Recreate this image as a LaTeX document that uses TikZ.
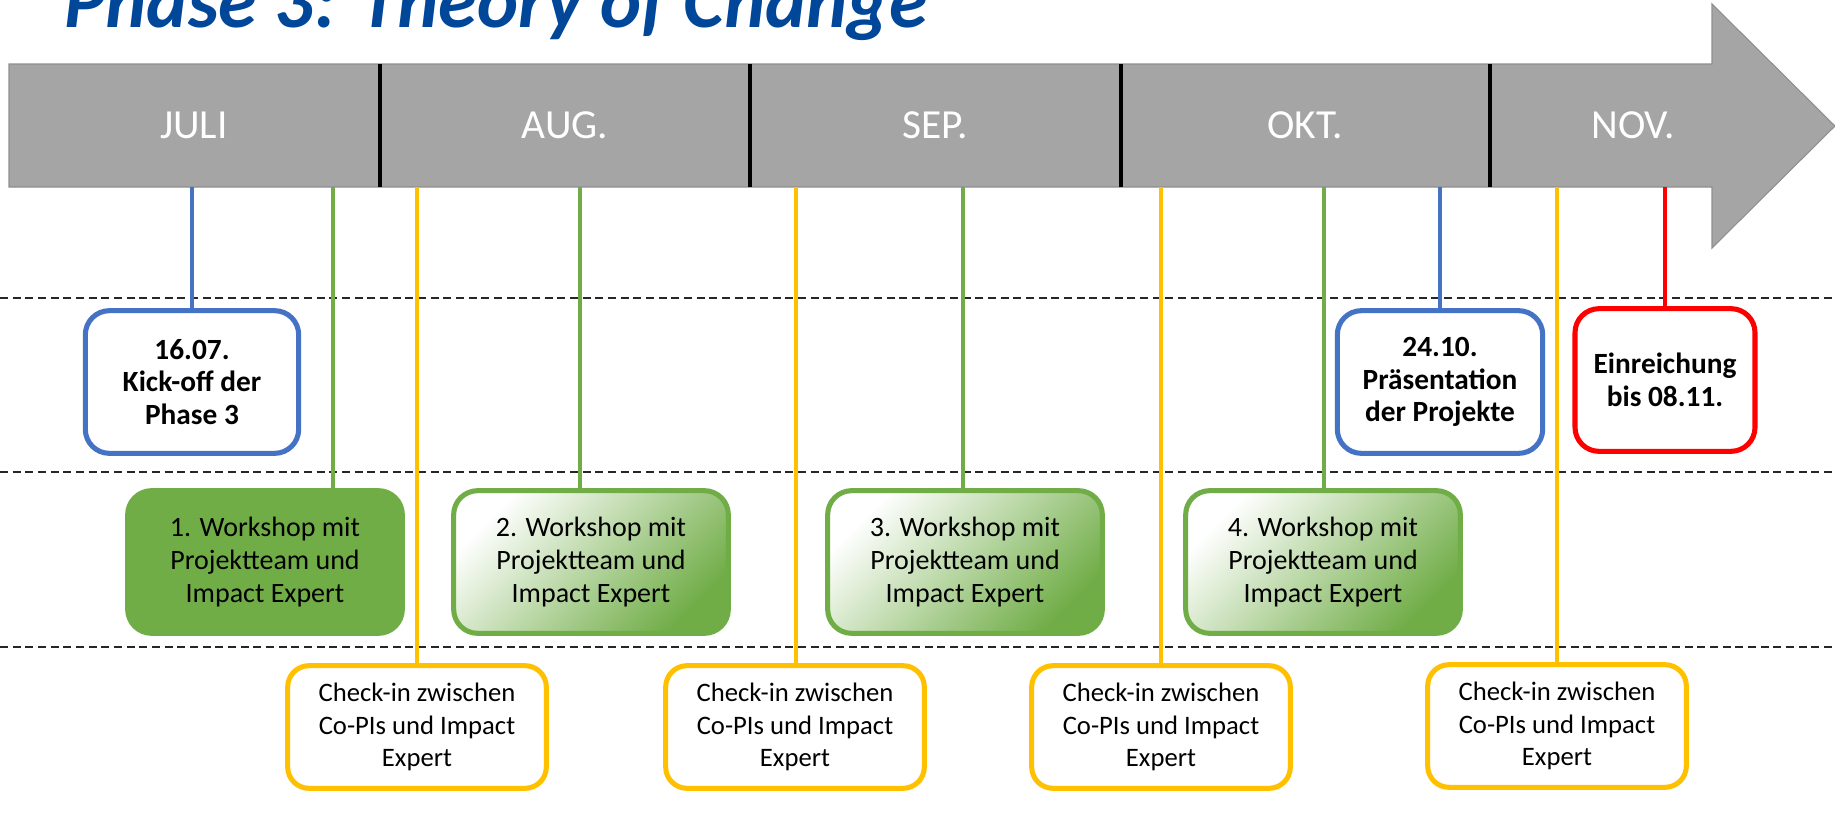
\documentclass[tikz,border=0pt]{standalone}
\usepackage{fontspec}
\setmainfont{Carlito}
\usetikzlibrary{positioning}

\definecolor{tlgray}{HTML}{A5A5A5}
\definecolor{tlgrayline}{HTML}{8F8F8F}
\definecolor{tlblue}{HTML}{4472C4}
\definecolor{tlgreen}{HTML}{70AD47}
\definecolor{tlyellow}{HTML}{FFC000}
\definecolor{tlred}{HTML}{FF0000}
\definecolor{tltitle}{RGB}{0,71,153}

\begin{document}
\begin{tikzpicture}[
    x=0.75pt, y=-0.75pt,
    every node/.style={align=center, inner sep=0pt},
    % Title: bold italic, cut by the top edge
    title/.style={font=\bfseries\itshape\fontsize{58.5}{60}\selectfont, text=tltitle},
    % Timeline arrow and month labels
    bar/.style={fill=tlgray, draw=tlgrayline, line width=0.8pt},
    month/.style={font=\fontsize{31}{36}\selectfont, text=white},
    divider/.style={line width=3pt, black},
    % Dashed row separators
    sep/.style={dash pattern=on 6pt off 3.5pt, line width=1pt, black!85},
    % Milestones: white boxes, bold text
    mile/.style={rectangle, rounded corners=18pt, line width=3.8pt, fill=white,
        minimum height=107pt, font=\bfseries\fontsize{22}{24.6}\selectfont},
    % Workshops: green boxes
    ws/.style={rectangle, rounded corners=18pt, line width=3.8pt, draw=tlgreen,
        minimum width=206pt, minimum height=107pt, font=\fontsize{21}{24.4}\selectfont},
    wsfill/.style={ws, fill=tlgreen},
    wsshade/.style={ws, top color=white, middle color=tlgreen!55, bottom color=tlgreen, shading angle=45},
    % Check-ins: yellow boxes
    chk/.style={rectangle, rounded corners=16pt, line width=3.8pt, draw=tlyellow, fill=white,
        minimum width=194pt, minimum height=92pt, font=\fontsize{20}{24.6}\selectfont},
    % Connectors from the arrow down to the boxes
    tick/.style={line width=3.4pt},
]
\clip (0,0) rectangle (1835,814);

% ============================================================
% TITLE
% ============================================================
\node[title, anchor=base west] (title) at (64,27) {Phase 3: Theory of Change};

% ============================================================
% TIMELINE ARROW
% ============================================================
\draw[bar] (9,64) -- (1712,64) -- (1712,4) -- (1835,126) -- (1712,248) -- (1712,187) -- (9,187) -- cycle;
\foreach \x in {380,750,1121,1490}
    \draw[divider] (\x,64) -- (\x,187);

\node[month] (jul) at (194,125) {JULI};
\node[month] (aug) at (565,125) {AUG.};
\node[month] (sep) at (935,125) {SEP.};
\node[month] (okt) at (1305,125) {OKT.};
\node[month] (nov) at (1633,125) {NOV.};

% ============================================================
% ROW SEPARATORS
% ============================================================
\coordinate (d1w) at (0,298);  \coordinate (d1e) at (1835,298);
\coordinate (d2w) at (0,472);  \coordinate (d2e) at (1835,472);
\coordinate (d3w) at (0,647);  \coordinate (d3e) at (1835,647);
\draw[sep] (d1w) -- (d1e);
\draw[sep] (d2w) -- (d2e);
\draw[sep] (d3w) -- (d3e);

% ============================================================
% ROW 1: milestones
% ============================================================
\node[mile, draw=tlblue, minimum width=160pt] (kick) at (192,382) {16.07.\\Kick-off der\\Phase 3};
\node[mile, draw=tlblue, minimum width=154pt] (praes) at (1440,382) {24.10.\\Präsentation\\der Projekte};
\node[mile, draw=tlred, minimum width=135pt] (einr) at (1665,380) {Einreichung\\bis 08.11.};

% ============================================================
% ROW 2: workshops
% ============================================================
\node[wsfill] (ws1) at (265,562) {1. Workshop mit\\Projektteam und\\Impact Expert};
\node[wsshade] (ws2) at (591,562) {2. Workshop mit\\Projektteam und\\Impact Expert};
\node[wsshade] (ws3) at (965,562) {3. Workshop mit\\Projektteam und\\Impact Expert};
\node[wsshade] (ws4) at (1323,562) {4. Workshop mit\\Projektteam und\\Impact Expert};

% ============================================================
% ROW 3: check-ins
% ============================================================
\node[chk] (chk1) at (417,727) {Check-in zwischen\\Co-PIs und Impact\\Expert};
\node[chk] (chk2) at (795,727) {Check-in zwischen\\Co-PIs und Impact\\Expert};
\node[chk] (chk3) at (1161,727) {Check-in zwischen\\Co-PIs und Impact\\Expert};
\node[chk] (chk4) at (1557,726) {Check-in zwischen\\Co-PIs und Impact\\Expert};

% ============================================================
% CONNECTORS
% ============================================================
\coordinate (tkick) at (192,187);
\coordinate (tpraes) at (1440,187);
\coordinate (teinr) at (1665,187);
\coordinate (tws1) at (333,187);
\coordinate (tws2) at (580,187);
\coordinate (tws3) at (963,187);
\coordinate (tws4) at (1324,187);
\coordinate (tchk1) at (417,187);
\coordinate (tchk2) at (796,187);
\coordinate (tchk3) at (1161,187);
\coordinate (tchk4) at (1557,187);

\draw[tick, tlblue] (tkick) -- (kick.north);
\draw[tick, tlblue] (tpraes) -- (praes.north);
\draw[tick, tlred] (teinr) -- (einr.north);
\draw[tick, tlgreen] (tws1) -- (tws1 |- ws1.north);
\draw[tick, tlgreen] (tws2) -- (tws2 |- ws2.north);
\draw[tick, tlgreen] (tws3) -- (tws3 |- ws3.north);
\draw[tick, tlgreen] (tws4) -- (tws4 |- ws4.north);
\draw[tick, tlyellow] (tchk1) -- (tchk1 |- chk1.north);
\draw[tick, tlyellow] (tchk2) -- (tchk2 |- chk2.north);
\draw[tick, tlyellow] (tchk3) -- (tchk3 |- chk3.north);
\draw[tick, tlyellow] (tchk4) -- (tchk4 |- chk4.north);

\end{tikzpicture}
\end{document}
